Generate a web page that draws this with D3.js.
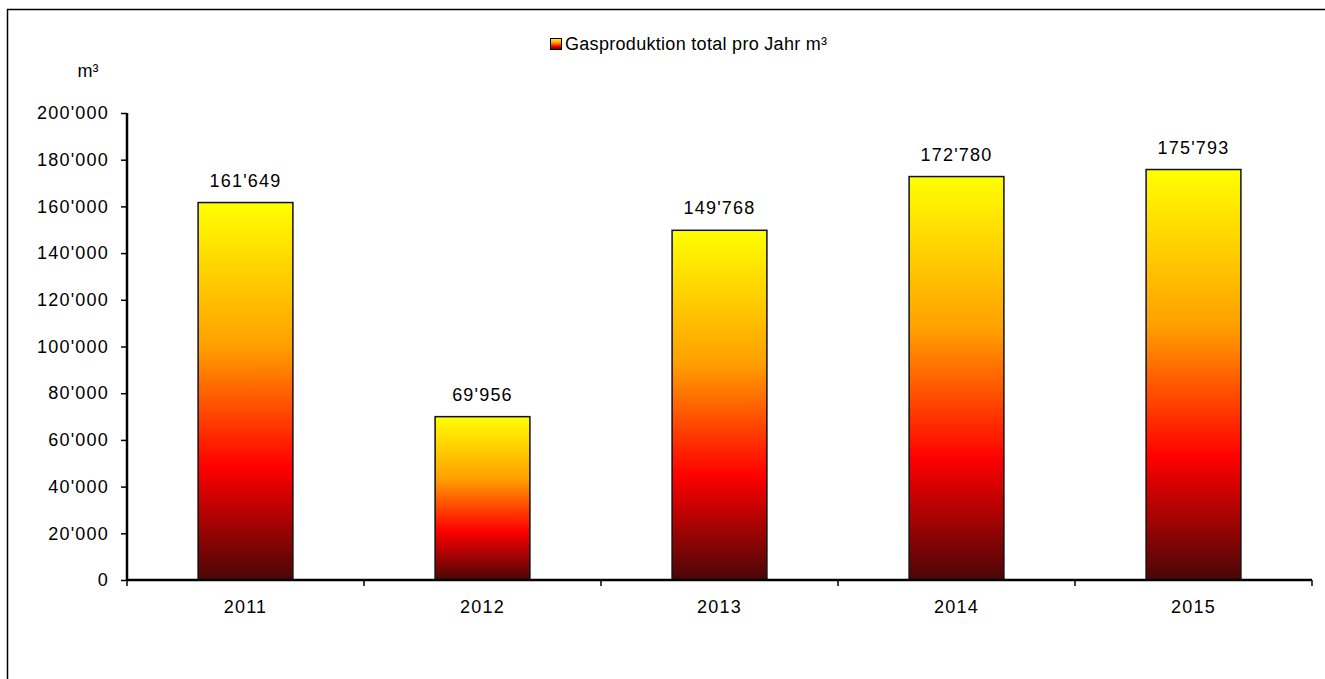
<!DOCTYPE html>
<html>
<head>
<meta charset="utf-8">
<script src="https://cdn.jsdelivr.net/npm/d3@7"></script>
<style>
  html, body { margin: 0; padding: 0; background: #fff; overflow: hidden; }
  svg { display: block; font-family: "Liberation Sans", Arial, sans-serif; }
</style>
</head>
<body>
<svg id="chart" width="1325" height="679"></svg>
<script>
// Annual gas production (m³)
const years = ["2011", "2012", "2013", "2014", "2015"];
const production = [161649, 69956, 149768, 172780, 175793];
const yTicks = [0, 20000, 40000, 60000, 80000, 100000, 120000, 140000, 160000, 180000, 200000];
const seriesName = "Gasproduktion total pro Jahr m³";
const unitLabel = "m³";

const svg = d3.select("#chart");
const W = 1325, H = 679;
const plot = { left: 127, right: 1312, top: 113, bottom: 580 };
const FONT = 18;
const SPACING = 1.2;

// thousands separator: apostrophe
const fmt = v => d3.format(",")(v).replace(/,/g, "'");

// outer frame: left and top edges
svg.append("line")
  .attr("x1", 7.5).attr("x2", 7.5).attr("y1", 9).attr("y2", H)
  .attr("stroke", "#000").attr("stroke-width", 1.5);
svg.append("line")
  .attr("x1", 7).attr("x2", W).attr("y1", 9.5).attr("y2", 9.5)
  .attr("stroke", "#000").attr("stroke-width", 1.5);

// per-bar vertical gradient: dark red → red → orange → yellow
const defs = svg.append("defs");
const grad = defs.append("linearGradient")
  .attr("id", "barGrad")
  .attr("x1", 0).attr("y1", 1).attr("x2", 0).attr("y2", 0);
[[0, "#4a0606"], [0.3, "#ff0000"], [0.62, "#ffa000"], [1, "#ffff00"]]
  .forEach(([o, c]) => grad.append("stop").attr("offset", o).attr("stop-color", c));

const x = d3.scaleBand().domain(years).range([plot.left, plot.right]).paddingInner(0.6).paddingOuter(0.3);
const xOuter = d3.scaleBand().domain(years).range([plot.left, plot.right]);
const y = d3.scaleLinear().domain([0, 200000]).range([plot.bottom, plot.top]);

const data = years.map((yr, i) => ({ yr, v: production[i] }));

// bars
svg.append("g").selectAll("rect")
  .data(data)
  .join("rect")
  .attr("x", d => x(d.yr))
  .attr("y", d => y(d.v))
  .attr("width", x.bandwidth())
  .attr("height", d => y(0) - y(d.v))
  .attr("fill", "url(#barGrad)")
  .attr("stroke", "#111")
  .attr("stroke-width", 1.5);

// value labels
svg.append("g").selectAll("text")
  .data(data)
  .join("text")
  .attr("x", d => x(d.yr) + x.bandwidth() / 2)
  .attr("y", d => y(d.v) - 16)
  .attr("text-anchor", "middle")
  .attr("font-size", FONT)
  .attr("letter-spacing", SPACING)
  .attr("fill", "#000")
  .text(d => fmt(d.v));

// y axis
const yAxis = svg.append("g")
  .attr("transform", `translate(${plot.left},0)`)
  .call(d3.axisLeft(y).tickValues(yTicks).tickFormat(fmt).tickSize(6).tickPadding(12));
yAxis.select(".domain").attr("stroke", "#000").attr("stroke-width", 2.5)
  .attr("d", `M0,${plot.top}V${plot.bottom}`);
yAxis.selectAll(".tick line").attr("stroke", "#000").attr("stroke-width", 1.5);
yAxis.selectAll(".tick text")
  .attr("font-size", FONT).attr("letter-spacing", SPACING).attr("fill", "#000")
  .attr("font-family", "Liberation Sans, Arial, sans-serif");

// x axis: line with ticks at category boundaries
const xg = svg.append("g");
xg.append("line")
  .attr("x1", plot.left).attr("x2", plot.right)
  .attr("y1", plot.bottom).attr("y2", plot.bottom)
  .attr("stroke", "#000").attr("stroke-width", 2.5);
const bounds = years.map(d => xOuter(d)).concat([plot.right]);
xg.selectAll("line.tk").data(bounds).join("line")
  .attr("class", "tk")
  .attr("x1", d => d).attr("x2", d => d)
  .attr("y1", plot.bottom).attr("y2", plot.bottom + 6)
  .attr("stroke", "#000").attr("stroke-width", 1.5);
xg.selectAll("text").data(years).join("text")
  .attr("x", d => xOuter(d) + xOuter.bandwidth() / 2)
  .attr("y", plot.bottom + 33)
  .attr("text-anchor", "middle")
  .attr("font-size", FONT)
  .attr("letter-spacing", SPACING)
  .text(d => d);

// unit label
svg.append("text")
  .attr("x", 88).attr("y", 77)
  .attr("text-anchor", "middle")
  .attr("font-size", FONT)
  .text(unitLabel);

// legend
const lg = svg.append("g");
lg.append("rect")
  .attr("x", 550.5).attr("y", 38.5).attr("width", 11).attr("height", 11)
  .attr("fill", "url(#barGrad)").attr("stroke", "#000").attr("stroke-width", 1);
lg.append("text")
  .attr("x", 565).attr("y", 50)
  .attr("font-size", FONT)
  .attr("letter-spacing", 0.3)
  .text(seriesName);
</script>
</body>
</html>
